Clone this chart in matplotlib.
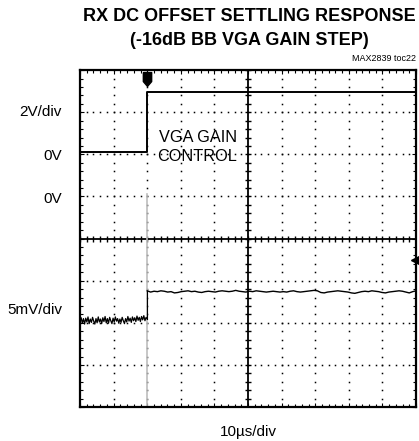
import numpy as np
import matplotlib.pyplot as plt
from matplotlib.transforms import blended_transform_factory
from matplotlib.path import Path

plt.rcParams['font.family'] = ['Liberation Sans', 'DejaVu Sans']

# scope screen: 10 x 8 divisions
n_xdiv = 10
n_ydiv = 8

# channel 1: VGA gain control step (divisions)
ctrl_t = [0.0, 2.0, 2.0, 10.0]
ctrl_v = [6.05, 6.05, 7.47, 7.47]

# channel 2: baseband output before the gain step (x 0..2 div)
rx_pre = [2.04, 2.12, 1.99, 2.10, 1.97, 2.11, 2.02, 2.14, 1.98, 2.09,
          2.01, 2.13, 2.04, 1.97, 2.10, 2.00, 2.14, 2.02, 2.09, 1.98,
          2.12, 2.03, 2.15, 2.00, 2.10, 1.99, 2.13, 2.05, 1.98, 2.11,
          2.02, 2.14, 2.04, 2.10, 1.99, 2.09, 2.01, 2.13, 2.05, 1.98,
          2.10, 2.02, 2.15, 2.04, 2.11, 2.01, 2.14, 2.05, 2.12, 2.03,
          2.16, 2.06, 2.13, 2.03, 2.15, 2.07, 2.17, 2.05, 2.13, 2.09]

# channel 2 after the gain step (x 2..10 div)
rx_post = [2.76, 2.73, 2.75, 2.74, 2.76, 2.75, 2.73, 2.74, 2.71, 2.72,
           2.74, 2.75, 2.76, 2.74, 2.75, 2.73, 2.72, 2.74, 2.75, 2.74,
           2.73, 2.75, 2.76, 2.75, 2.74, 2.75, 2.77, 2.75, 2.74, 2.73,
           2.75, 2.74, 2.76, 2.75, 2.74, 2.73, 2.74, 2.75, 2.74, 2.73,
           2.74, 2.73, 2.75, 2.76, 2.74, 2.73, 2.74, 2.75, 2.76, 2.77,
           2.76, 2.72, 2.71, 2.73, 2.74, 2.75, 2.76, 2.75, 2.74, 2.73,
           2.71, 2.70, 2.72, 2.74, 2.75, 2.74, 2.76, 2.75, 2.74, 2.72,
           2.71, 2.73, 2.74, 2.75, 2.76, 2.75, 2.73, 2.71, 2.74, 2.76]

trig_t = 2.0
gnd2 = 3.5

left_labels = ['2V/div', '0V', '0V', '5mV/div']
left_label_y = [7.0, 5.95, 4.95, 2.3]

fig = plt.figure(figsize=(4.19, 4.41), dpi=100)
ax = fig.add_axes([0.191, 0.077, 0.802, 0.764])
ax.set_xlim(0, n_xdiv)
ax.set_ylim(0, n_ydiv)

# dotted graticule
for gx in range(1, n_xdiv):
    if gx == n_xdiv // 2:
        continue
    yy = np.arange(0, n_ydiv + 0.01, 0.2)
    ax.plot(np.full_like(yy, gx), yy, ls='none', marker='s', ms=1.1, color='k', mew=0)
for gy in range(1, n_ydiv):
    if gy == n_ydiv // 2:
        continue
    xx = np.arange(0, n_xdiv + 0.01, 0.2)
    ax.plot(xx, np.full_like(xx, gy), ls='none', marker='s', ms=1.1, color='k', mew=0)

# centre cross with ticks
ax.axvline(n_xdiv / 2, color='k', lw=1.3)
ax.axhline(n_ydiv / 2, color='k', lw=1.3)
ty = np.arange(0, n_ydiv + 0.01, 0.2)
ax.plot(np.full_like(ty, n_xdiv / 2), ty, ls='none', marker='_', ms=5, mew=1, color='k')
tx = np.arange(0, n_xdiv + 0.01, 0.2)
ax.plot(tx, np.full_like(tx, n_ydiv / 2), ls='none', marker='|', ms=5, mew=1, color='k')

# gray trigger cursor on lower half
ax.plot([trig_t, trig_t], [0, 5.05], color='#bdbdbd', lw=1.2)

# traces
ax.plot(ctrl_t, ctrl_v, color='k', lw=1.4)
x_pre = np.linspace(0, trig_t, len(rx_pre))
x_post = np.linspace(trig_t, n_xdiv, len(rx_post))
ax.plot(x_pre, rx_pre, color='k', lw=0.9)
ax.plot([trig_t, trig_t], [rx_pre[-1], rx_post[0]], color='k', lw=0.8)
ax.plot(x_post, rx_post, color='k', lw=1.0)

# trigger and ground markers
trig_marker = Path([(-0.6, 1), (0.6, 1), (0.6, -0.3), (0, -1), (-0.6, -0.3), (-0.6, 1)])
ax.plot([trig_t], [7.78], marker=trig_marker, ms=10, color='k', clip_on=False)
ax.plot([n_xdiv - 0.04], [gnd2], marker='<', ms=6, color='k', clip_on=False)

ax.text(4.67, 6.4, 'VGA GAIN', ha='right', va='center', fontsize=11.7)
ax.text(4.67, 5.95, 'CONTROL', ha='right', va='center', fontsize=11.7)

# frame ticks
ax.set_xticks(range(n_xdiv + 1))
ax.set_yticks(range(n_ydiv + 1))
ax.set_xticks(np.arange(0, n_xdiv + 0.01, 0.2), minor=True)
ax.set_yticks(np.arange(0, n_ydiv + 0.01, 0.2), minor=True)
ax.tick_params(which='both', direction='in', top=True, right=True,
               labelbottom=False, labelleft=False, width=0.8)
ax.tick_params(which='major', length=3)
ax.tick_params(which='minor', length=2)
for s in ax.spines.values():
    s.set_linewidth(1.6)

trans = blended_transform_factory(ax.transAxes, ax.transData)
for lab, yv in zip(left_labels, left_label_y):
    ax.text(-0.054, yv, lab, transform=trans, ha='right', va='center', fontsize=11)

fig.text(0.594, 0.962, 'RX DC OFFSET SETTLING RESPONSE', ha='center', va='center',
         fontsize=13, fontweight='bold')
fig.text(0.594, 0.909, '(-16dB BB VGA GAIN STEP)', ha='center', va='center',
         fontsize=13, fontweight='bold')
fig.text(0.993, 0.868, 'MAX2839 toc22', ha='right', va='center', fontsize=6.5)
fig.text(0.592, 0.02, '10\u00b5s/div', ha='center', va='center', fontsize=11)

fig.savefig('out.png', dpi=100)
